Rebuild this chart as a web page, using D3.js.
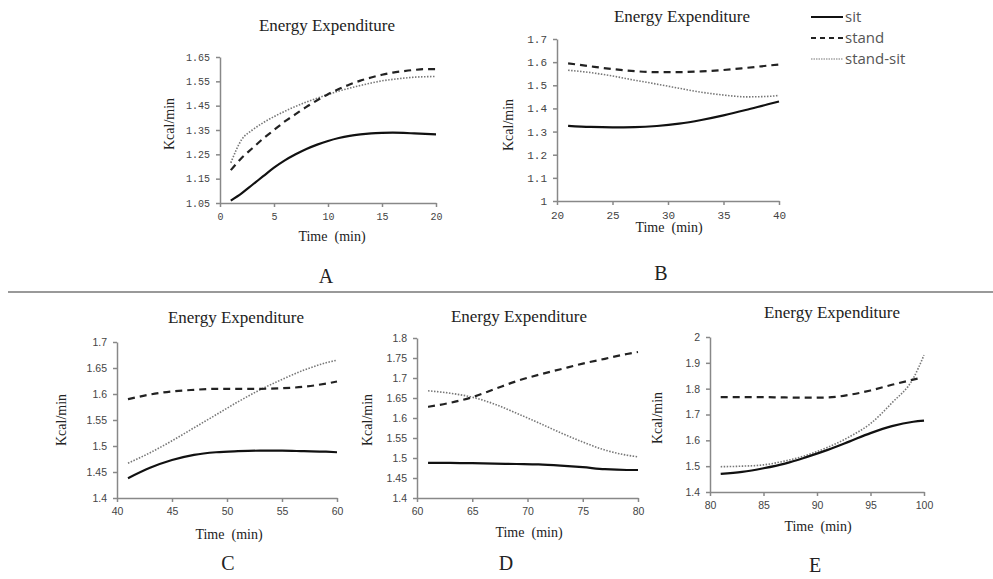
<!DOCTYPE html>
<html>
<head>
<meta charset="utf-8">
<script src="https://cdn.jsdelivr.net/npm/d3@7"></script>
<style>
  body { margin: 0; background: #fff; }
  svg { display: block; }
  .title, .xlab, .ylab, .letter { font-family: "Liberation Serif", "Times New Roman", serif; fill: #222; }
  .axis path, .axis line { stroke: #888; stroke-width: 1.5; }
  .axis text { fill: #444; }
</style>
</head>
<body>
<svg width="993" height="579"></svg>
<script>
// ---- data ----
var seriesNames = ["sit", "stand", "stand-sit"];

var timeA = [1, 2, 3, 4, 5, 6, 7, 8, 9, 10, 11, 12, 13, 14, 15, 16, 17, 18, 19, 20];
var sitA = [1.06, 1.09, 1.125, 1.16, 1.195, 1.225, 1.25, 1.272, 1.29, 1.305, 1.317, 1.326, 1.332, 1.336, 1.338, 1.339, 1.338, 1.336, 1.334, 1.332];
var standA = [1.185, 1.235, 1.275, 1.315, 1.35, 1.385, 1.415, 1.445, 1.472, 1.497, 1.518, 1.537, 1.553, 1.566, 1.577, 1.586, 1.592, 1.597, 1.6, 1.6];
var standSitA = [1.215, 1.31, 1.35, 1.38, 1.405, 1.427, 1.447, 1.465, 1.481, 1.496, 1.51, 1.522, 1.533, 1.543, 1.552, 1.558, 1.563, 1.567, 1.569, 1.57];
var yTicksA = ["1.05", "1.15", "1.25", "1.35", "1.45", "1.55", "1.65"];
var xTicksA = [0, 5, 10, 15, 20];

var timeB = [21, 23, 25, 27, 29, 31, 33, 35, 37, 39, 40];
var sitB = [1.325, 1.32, 1.318, 1.319, 1.324, 1.334, 1.35, 1.37, 1.393, 1.418, 1.43];
var standB = [1.595, 1.582, 1.57, 1.561, 1.557, 1.557, 1.56, 1.566, 1.575, 1.585, 1.59];
var standSitB = [1.565, 1.555, 1.54, 1.522, 1.505, 1.487, 1.47, 1.458, 1.45, 1.452, 1.456];
var yTicksB = ["1", "1.1", "1.2", "1.3", "1.4", "1.5", "1.6", "1.7"];
var xTicksB = [20, 25, 30, 35, 40];

var timeC = [41, 43, 45, 47, 49, 51, 53, 55, 57, 59, 60];
var sitC = [1.438, 1.458, 1.473, 1.483, 1.488, 1.49, 1.491, 1.491, 1.49, 1.489, 1.488];
var standC = [1.59, 1.599, 1.605, 1.608, 1.61, 1.61, 1.61, 1.611, 1.614, 1.62, 1.624];
var standSitC = [1.467, 1.487, 1.51, 1.535, 1.56, 1.585, 1.608, 1.628, 1.646, 1.66, 1.665];
var yTicksC = ["1.4", "1.45", "1.5", "1.55", "1.6", "1.65", "1.7"];
var xTicksC = [40, 45, 50, 55, 60];

var timeD = [61, 63, 65, 67, 69, 71, 73, 75, 77, 79, 80];
var sitD = [1.488, 1.488, 1.487, 1.486, 1.485, 1.484, 1.481, 1.477, 1.472, 1.47, 1.47];
var standD = [1.628, 1.638, 1.652, 1.672, 1.692, 1.708, 1.722, 1.736, 1.748, 1.76, 1.765];
var standSitD = [1.668, 1.662, 1.652, 1.635, 1.612, 1.588, 1.563, 1.54, 1.52, 1.507, 1.503];
var yTicksD = ["1.4", "1.45", "1.5", "1.55", "1.6", "1.65", "1.7", "1.75", "1.8"];
var xTicksD = [60, 65, 70, 75, 80];

var timeE = [81, 83, 85, 87, 89, 91, 93, 95, 97, 99, 100];
var sitE = [1.47, 1.478, 1.492, 1.51, 1.535, 1.563, 1.595, 1.628, 1.655, 1.672, 1.676];
var standE = [1.767, 1.767, 1.767, 1.766, 1.765, 1.766, 1.776, 1.793, 1.815, 1.84];
var timeStandE = [81, 83, 85, 87, 89, 91, 93, 95, 97, 99.5];
var standSitE = [1.498, 1.5, 1.505, 1.52, 1.542, 1.573, 1.613, 1.665, 1.745, 1.84, 1.93];
var yTicksE = ["1.4", "1.5", "1.6", "1.7", "1.8", "1.9", "2"];
var xTicksE = [80, 85, 90, 95, 100];

// ---- layout ----
var panels = [
  { letter: "A", time: timeA, sit: sitA, stand: standA, standSit: standSitA, timeStand: timeA,
    yTicks: yTicksA, xTicks: xTicksA, x0: 220, x1: 436, y0: 203, y1: 57,
    tickFont: "Liberation Mono", tickSize: 10,
    title: [327, 31], xlab: [332, 241], ylab: [174, 124], let: [326, 283] },
  { letter: "B", time: timeB, sit: sitB, stand: standB, standSit: standSitB, timeStand: timeB,
    yTicks: yTicksB, xTicks: xTicksB, x0: 557, x1: 779, y0: 201, y1: 39,
    tickFont: "Liberation Mono", tickSize: 11,
    title: [682, 22], xlab: [669, 232], ylab: [513, 125], let: [661, 280] },
  { letter: "C", time: timeC, sit: sitC, stand: standC, standSit: standSitC, timeStand: timeC,
    yTicks: yTicksC, xTicks: xTicksC, x0: 117, x1: 337, y0: 498, y1: 342,
    tickFont: "Liberation Sans", tickSize: 10.5,
    title: [236, 323], xlab: [229, 539], ylab: [66, 420], let: [228, 570] },
  { letter: "D", time: timeD, sit: sitD, stand: standD, standSit: standSitD, timeStand: timeD,
    yTicks: yTicksD, xTicks: xTicksD, x0: 417, x1: 638, y0: 498, y1: 338,
    tickFont: "Liberation Sans", tickSize: 10.5,
    title: [519, 322], xlab: [529, 537], ylab: [372, 420], let: [506, 570] },
  { letter: "E", time: timeE, sit: sitE, stand: standE, standSit: standSitE, timeStand: timeStandE,
    yTicks: yTicksE, xTicks: xTicksE, x0: 710, x1: 924, y0: 492, y1: 337,
    tickFont: "Liberation Sans", tickSize: 10.5,
    title: [832, 318], xlab: [818, 531], ylab: [662, 418], let: [815, 572] }
];

var styles = {
  "sit": { color: "#111", width: 2.2, dash: null },
  "stand": { color: "#222", width: 2.2, dash: "7,5" },
  "stand-sit": { color: "#777", width: 1.6, dash: "1.5,1.5" }
};

var svg = d3.select("svg");

// separator between the two rows
svg.append("line")
  .attr("x1", 8).attr("x2", 993).attr("y1", 292).attr("y2", 292)
  .attr("stroke", "#999").attr("stroke-width", 2);

panels.forEach(function (p) {
  var yVals = p.yTicks.map(Number);
  var x = d3.scaleLinear().domain([p.xTicks[0], p.xTicks[p.xTicks.length - 1]]).range([p.x0, p.x1]);
  var y = d3.scaleLinear().domain([d3.min(yVals), d3.max(yVals)]).range([p.y0, p.y1]);
  var g = svg.append("g");

  g.append("g")
    .attr("class", "axis")
    .attr("transform", "translate(0," + p.y0 + ")")
    .call(d3.axisBottom(x).tickValues(p.xTicks).tickSize(4).tickSizeOuter(0).tickPadding(6))
    .selectAll("text").style("font-family", p.tickFont).style("font-size", p.tickSize + "px");

  g.append("g")
    .attr("class", "axis")
    .attr("transform", "translate(" + p.x0 + ",0)")
    .call(d3.axisLeft(y).tickValues(yVals).tickFormat(function (d, i) { return p.yTicks[i]; })
      .tickSize(4).tickSizeOuter(0).tickPadding(6))
    .selectAll("text").style("font-family", p.tickFont).style("font-size", p.tickSize + "px");

  var line = d3.line().curve(d3.curveMonotoneX)
    .x(function (d) { return x(d[0]); })
    .y(function (d) { return y(d[1]); });

  var series = [
    { name: "stand-sit", pts: d3.zip(p.time, p.standSit) },
    { name: "stand", pts: d3.zip(p.timeStand, p.stand) },
    { name: "sit", pts: d3.zip(p.time, p.sit) }
  ];
  g.selectAll(".series")
    .data(series)
    .enter().append("path")
    .attr("class", "series")
    .attr("d", function (d) { return line(d.pts); })
    .attr("fill", "none")
    .attr("stroke", function (d) { return styles[d.name].color; })
    .attr("stroke-width", function (d) { return styles[d.name].width; })
    .attr("stroke-dasharray", function (d) { return styles[d.name].dash; });

  g.append("text").attr("class", "title")
    .attr("x", p.title[0]).attr("y", p.title[1])
    .attr("text-anchor", "middle").style("font-size", "17px")
    .text("Energy Expenditure");

  g.append("text").attr("class", "xlab")
    .attr("x", p.xlab[0]).attr("y", p.xlab[1])
    .attr("text-anchor", "middle").style("font-size", "14px")
    .style("white-space", "pre").attr("xml:space", "preserve")
    .text("Time  (min)");

  g.append("text").attr("class", "ylab")
    .attr("transform", "translate(" + p.ylab[0] + "," + p.ylab[1] + ") rotate(-90)")
    .attr("text-anchor", "middle").style("font-size", "14px")
    .text("Kcal/min");

  g.append("text").attr("class", "letter")
    .attr("x", p.let[0]).attr("y", p.let[1])
    .attr("text-anchor", "middle").style("font-size", "20px")
    .text(p.letter);
});

// legend
var legend = svg.append("g").attr("transform", "translate(811,0)");
var legendY = [17, 38, 59];
seriesNames.forEach(function (name, i) {
  legend.append("line")
    .attr("x1", 0).attr("x2", 32)
    .attr("y1", legendY[i]).attr("y2", legendY[i])
    .attr("stroke", styles[name].color)
    .attr("stroke-width", name === "stand-sit" ? 1.2 : 2)
    .attr("stroke-dasharray", name === "stand" ? "5,4" : (name === "stand-sit" ? "1.5,1" : null));
  legend.append("text")
    .attr("x", 34).attr("y", legendY[i] + 5)
    .style("font-family", "Open Sans, sans-serif").style("font-size", "15px")
    .attr("fill", "#555")
    .text(name);
});
</script>
</body>
</html>
